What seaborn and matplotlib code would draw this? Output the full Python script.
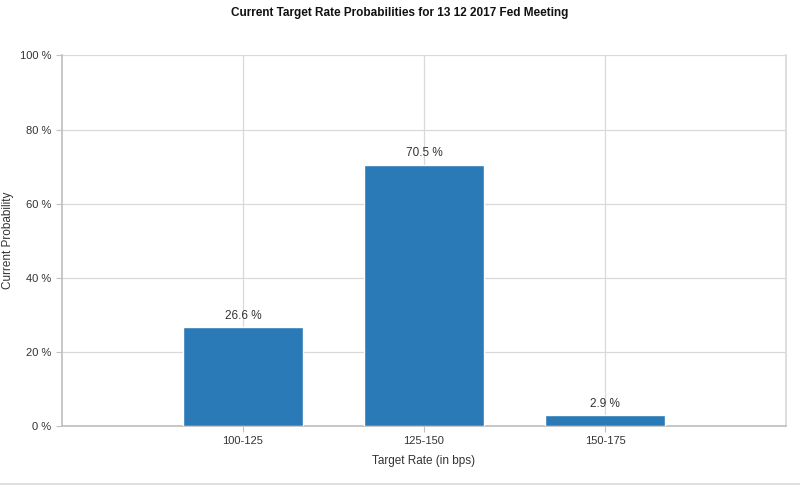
import matplotlib
matplotlib.use("Agg")
import matplotlib.pyplot as plt
import seaborn as sns
import pandas as pd

categories = ["100-125", "125-150", "150-175"]
probabilities = [26.6, 70.5, 2.9]
y_ticks = [0, 20, 40, 60, 80, 100]

sns.set_theme(style="white")
plt.rcParams["font.family"] = ["Liberation Sans", "DejaVu Sans"]

df = pd.DataFrame({"rate": categories, "prob": probabilities})

fig = plt.figure(figsize=(8, 4.87), dpi=100)
ax = fig.add_axes([62/800, 1 - 426/487, (786-62)/800, (426-55.5)/487])

# place categories at 1,2,3 with an empty band on each side
order = [""] + categories + [" "]
sns.barplot(data=df, x="rate", y="prob", order=order, color="#2a7ab8",
            width=0.66, saturation=1, ax=ax, zorder=3)
ax.set_xlim(0, 4)
ax.set_xticks([1, 2, 3])
ax.set_xticklabels(categories)
ax.set_ylim(0, 100)
ax.set_yticks(y_ticks)
ax.set_yticklabels([f"{v} %" for v in y_ticks])

# grid
ax.grid(True, axis="both", color="#d9d9d9", linewidth=0.9, zorder=0)
ax.set_axisbelow(True)
ax.spines["top"].set_visible(False)
ax.spines["right"].set_color("#d9d9d9")
ax.spines["left"].set_color("#c0c0c0")
ax.spines["bottom"].set_color("#c0c0c0")
ax.tick_params(axis="both", which="both", length=4, width=0.8, color="#c0c0c0",
               labelsize=8, labelcolor="#333333", left=True, bottom=True)

for i, v in enumerate(probabilities):
    ax.annotate(f"{v} %", (i + 1, v), xytext=(0, 4), textcoords="offset points",
                ha="center", va="bottom", fontsize=8.5, color="#333333")

ax.set_xlabel("Target Rate (in bps)", fontsize=8.5, color="#333333", labelpad=6)
ax.set_ylabel("Current Probability", fontsize=8.5, color="#333333")
ax.yaxis.set_label_coords(-0.066, 0.5)

fig.text(0.5, 1 - 13/487, "Current Target Rate Probabilities for 13 12 2017 Fed Meeting",
         ha="center", va="center", fontsize=8.5, fontweight="bold", color="#111111")

# bottom separator line
fig.add_artist(plt.Line2D([0, 1], [1 - 484/487, 1 - 484/487], color="#d9d9d9",
                          linewidth=1.2, transform=fig.transFigure))

fig.savefig("out.png", dpi=100)
